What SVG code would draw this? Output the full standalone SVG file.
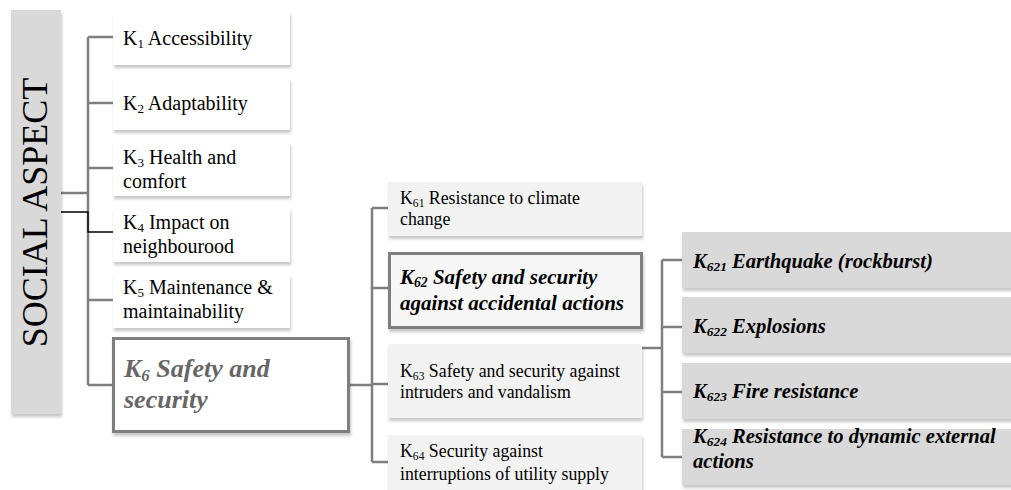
<svg xmlns="http://www.w3.org/2000/svg" width="1011" height="490" viewBox="0 0 1011 490" font-family="'Liberation Serif', 'Times New Roman', serif">
<defs>
<filter id="sh" x="-5%" y="-10%" width="115%" height="130%">
<feDropShadow dx="1" dy="3" stdDeviation="1.5" flood-color="#000" flood-opacity="0.22"/>
</filter>
<style>
text{font-family:'Liberation Serif','Times New Roman',serif}
.t{fill:#000}
.l1{font-size:20px}
.l2{font-size:17.8px}
.bi{font-weight:bold;font-style:italic}
.r3{font-size:20.6px}
.sub{font-size:0.65em}
.ln{fill:none;stroke:#7f7f7f;stroke-width:2.5}
.w{fill:#fff;filter:url(#sh)}
.m{fill:#f2f2f2;filter:url(#sh)}
.r{fill:#d9d9d9;filter:url(#sh)}
</style>
</defs>
<rect width="1011" height="490" fill="#fff"/>

<g id="connectors">
<path class="ln" d="M61,193 H88 M88,37 V385 M88,37 H113 M88,103 H113 M88,168 H113 M88,300 H113 M88,385 H113"/>
<path d="M61,212 H88 V232 H113" fill="none" stroke="#000" stroke-width="1.3"/>
<path class="ln" d="M350,385 H372 M372,208 V462 M372,208 H388 M372,288 H388 M372,384 H388 M372,462 H388"/>
<path class="ln" d="M642,348 H662 M662,260 V457 M662,260 H682 M662,327 H682 M662,392 H682 M662,457 H682"/>
</g>

<g id="social">
<rect x="11" y="10" width="50" height="404" fill="#d9d9d9" filter="url(#sh)"/>
<text class="t" font-size="36" transform="translate(47,212.5) rotate(-90)" text-anchor="middle">SOCIAL ASPECT</text>
</g>

<g id="k1"><rect class="w" x="113" y="12" width="177" height="53"/>
<text class="t l1" x="123" y="45">K<tspan class="sub" dy="3">1</tspan><tspan dy="-3"> Accessibility</tspan></text></g>
<g id="k2"><rect class="w" x="113" y="78" width="177" height="52"/>
<text class="t l1" x="123" y="110">K<tspan class="sub" dy="3">2</tspan><tspan dy="-3"> Adaptability</tspan></text></g>
<g id="k3"><rect class="w" x="113" y="142" width="177" height="54"/>
<text class="t l1" x="123" y="164">K<tspan class="sub" dy="3">3</tspan><tspan dy="-3"> Health and</tspan></text>
<text class="t l1" x="123" y="188">comfort</text></g>
<g id="k4"><rect class="w" x="113" y="208" width="177" height="54"/>
<text class="t l1" x="123" y="229">K<tspan class="sub" dy="3">4</tspan><tspan dy="-3"> Impact on</tspan></text>
<text class="t l1" x="123" y="253">neighbourood</text></g>
<g id="k5"><rect class="w" x="113" y="274" width="177" height="54"/>
<text class="t l1" x="123" y="294">K<tspan class="sub" dy="3">5</tspan><tspan dy="-3"> Maintenance &amp;</tspan></text>
<text class="t l1" x="123" y="318">maintainability</text></g>
<g id="k6"><rect x="113.5" y="338.5" width="235" height="93" fill="#fff" stroke="#7f7f7f" stroke-width="3" filter="url(#sh)"/>
<text class="bi" font-size="26" fill="#666" x="124" y="377">K<tspan class="sub" dy="4">6</tspan><tspan dy="-4">  Safety and</tspan></text>
<text class="bi" font-size="26" fill="#666" x="124" y="408">security</text></g>

<g id="k61"><rect class="m" x="388" y="182" width="254" height="54"/>
<text class="t l2" x="400" y="204">K<tspan class="sub" dy="3">61</tspan><tspan dy="-3"> Resistance to climate</tspan></text>
<text class="t l2" x="400" y="225">change</text></g>
<g id="k62"><rect x="389.5" y="253.5" width="252" height="74" fill="#f7f7f7" stroke="#7f7f7f" stroke-width="3" filter="url(#sh)"/>
<text class="t bi" font-size="21" x="400" y="284">K<tspan class="sub" dy="3">62</tspan><tspan dy="-3"> Safety and security</tspan></text>
<text class="t bi" font-size="21" x="400" y="310">against accidental actions</text></g>
<g id="k63"><rect class="m" x="388" y="344" width="254" height="74"/>
<text class="t l2" x="400" y="377">K<tspan class="sub" dy="3">63</tspan><tspan dy="-3"> Safety and security against</tspan></text>
<text class="t l2" x="400" y="398">intruders and vandalism</text></g>
<g id="k64"><rect class="m" x="388" y="435" width="254" height="60"/>
<text class="t l2" x="400" y="457">K<tspan class="sub" dy="3">64</tspan><tspan dy="-3"> Security against</tspan></text>
<text class="t l2" x="400" y="480">interruptions of utility supply</text></g>

<g id="k621"><rect class="r" x="682" y="232" width="335" height="56"/>
<text class="t bi r3" x="693" y="268">K<tspan class="sub" dy="3">621</tspan><tspan dy="-3"> Earthquake (rockburst)</tspan></text></g>
<g id="k622"><rect class="r" x="682" y="297" width="335" height="56"/>
<text class="t bi r3" x="693" y="333">K<tspan class="sub" dy="3">622</tspan><tspan dy="-3">  Explosions</tspan></text></g>
<g id="k623"><rect class="r" x="682" y="363" width="335" height="56"/>
<text class="t bi r3" x="693" y="398">K<tspan class="sub" dy="3">623</tspan><tspan dy="-3"> Fire resistance</tspan></text></g>
<g id="k624"><rect class="r" x="682" y="429" width="335" height="56"/>
<text class="t bi r3" x="693" y="443">K<tspan class="sub" dy="3">624</tspan><tspan dy="-3"> Resistance to dynamic external</tspan></text>
<text class="t bi r3" x="693" y="468">actions</text></g>
</svg>
